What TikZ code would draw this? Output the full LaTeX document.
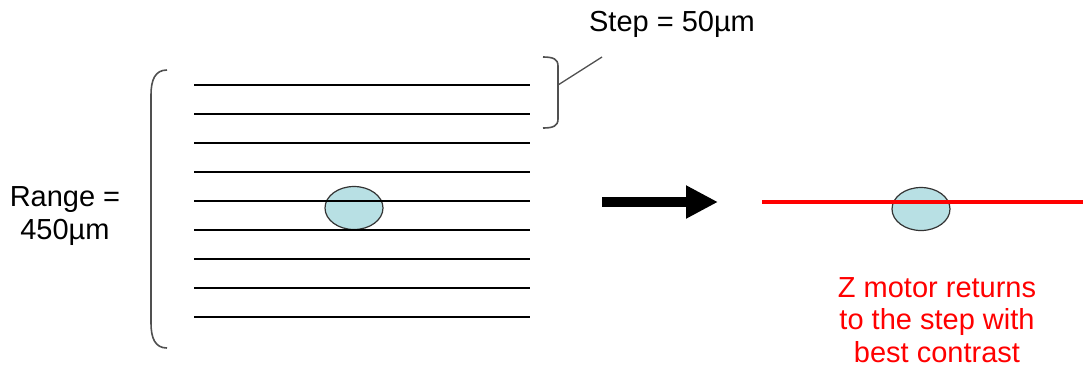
\documentclass[tikz,border=0pt]{standalone}
\usepackage{fontspec}
\setmainfont{Liberation Sans}
\usetikzlibrary{arrows.meta,shapes.geometric}
\definecolor{blob}{HTML}{B8E0E4}
\definecolor{blobedge}{HTML}{333333}
\definecolor{bracecol}{HTML}{505050}
\begin{document}
\begin{tikzpicture}[x=1pt,y=-1pt,
  scanline/.style={line width=2pt,black},
  blobshape/.style={ellipse,draw=blobedge,fill=blob,line width=1.2pt,minimum width=58pt,minimum height=43pt,inner sep=0pt},
  bracestyle/.style={draw=bracecol,line width=1.6pt},
  lbl/.style={font=\fontsize{29}{32.5}\selectfont,inner sep=0pt,align=center},
  redlbl/.style={lbl,text=red}]
\useasboundingbox (0,0) rectangle (1083,368);
% left range bracket
\draw[bracestyle] (167,70) .. controls (155,70) and (151,80) .. (151,95) -- (151,323) .. controls (151,338) and (155,348) .. (167,348);
% step bracket
\draw[bracestyle] (543,57) .. controls (553,57) and (558,59) .. (558,66) -- (558,119) .. controls (558,126) and (553,128) .. (543,128);
\coordinate (tick) at (558,85);
\coordinate (leaderend) at (602,57);
\draw[bracestyle,line width=1.3pt] (tick) -- (leaderend);
% labels
\node[lbl] (step) at (672,24) {Step = 50µm};
\node[lbl] (range) at (65,216) {Range =\\450µm};
% ellipse left
\node[blobshape] (blobA) at (354,208) {};
% scan lines
\foreach \y [count=\i] in {85,114,143,172,201,230,259,288,317}{
  \coordinate (la\i) at (194,\y);
  \coordinate (lb\i) at (530,\y);
  \draw[scanline] (la\i) -- (lb\i);
}
% arrow
\coordinate (arrA) at (602,202);
\coordinate (arrB) at (718,202);
\draw[line width=10pt,-{Triangle[length=32pt,width=31pt]}] (arrA) -- (arrB);
% right side
\node[blobshape] (blobB) at (921,209) {};
\coordinate (redA) at (762,202);
\coordinate (redB) at (1083,202);
\draw[red,line width=4pt] (redA) -- (redB);
\node[redlbl] (note) at (937,320) {Z motor returns\\to the step with\\best contrast};
\end{tikzpicture}
\end{document}
